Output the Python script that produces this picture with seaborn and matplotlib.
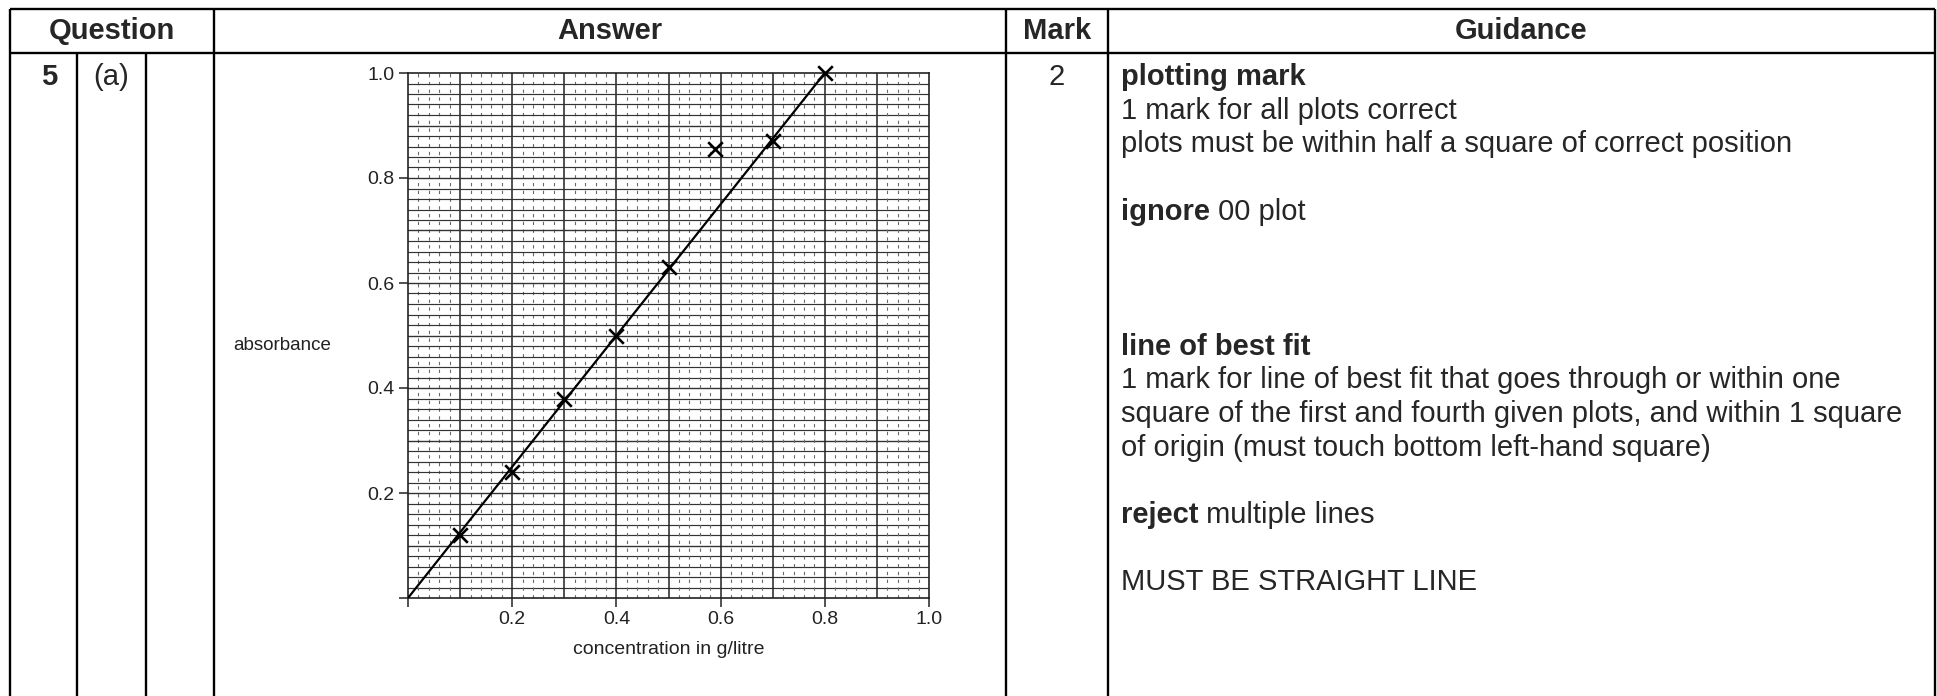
import numpy as np
import pandas as pd
import matplotlib
matplotlib.use("Agg")
import matplotlib.pyplot as plt
import seaborn as sns

# ---- data ----
concentration = [0.1, 0.2, 0.3, 0.4, 0.5, 0.59, 0.7, 0.8]
absorbance = [0.12, 0.24, 0.38, 0.50, 0.63, 0.855, 0.87, 1.0]
fit_x = [0.0, 0.8]
fit_y = [0.0, 1.0]
tick_values = [0.0, 0.2, 0.4, 0.6, 0.8, 1.0]
tick_labels = ["", "0.2", "0.4", "0.6", "0.8", "1.0"]

headers = ["Question", "Answer", "Mark", "Guidance"]
question_no = "5"
question_part = "(a)"
mark_value = "2"

sns.set_theme(style="white")
plt.rcParams["font.family"] = ["Liberation Sans", "DejaVu Sans"]

W, H = 1937, 696
fig = plt.figure(figsize=(W / 100, H / 100), dpi=100)
fig.patch.set_facecolor("white")

# background axes in pixel coordinates for the table
bg = fig.add_axes([0, 0, 1, 1])
bg.set_xlim(0, W)
bg.set_ylim(H, 0)
bg.axis("off")

lw_tab = 1.7
top, hdr = 9, 53
xl, c1, c2, c3, c4, c5, xr = 10, 77, 146, 214, 1006, 1108, 1935
bg.plot([xl, xr], [top, top], color="black", lw=lw_tab, solid_capstyle="butt")
bg.plot([xl, xr], [hdr, hdr], color="black", lw=lw_tab, solid_capstyle="butt")
for xv in [xl, c3, c4, c5, xr]:
    bg.plot([xv, xv], [top, H], color="black", lw=lw_tab, solid_capstyle="butt")
for xv in [c1, c2]:
    bg.plot([xv, xv], [hdr, H], color="black", lw=lw_tab, solid_capstyle="butt")

fs_head = 21
fs_body = 21
hy = 31
bg.text((xl + c3) / 2, hy, headers[0], ha="center", va="center", fontsize=fs_head, fontweight="bold")
bg.text((c3 + c4) / 2, hy, headers[1], ha="center", va="center", fontsize=fs_head, fontweight="bold")
bg.text((c4 + c5) / 2, hy, headers[2], ha="center", va="center", fontsize=fs_head, fontweight="bold")
bg.text((c5 + xr) / 2, hy, headers[3], ha="center", va="center", fontsize=fs_head, fontweight="bold")

ry = 74
bg.text(49, ry, question_no, ha="center", va="center_baseline", fontsize=fs_body, fontweight="bold")
bg.text((c1 + c2) / 2, ry, question_part, ha="center", va="center_baseline", fontsize=fs_body)
bg.text((c4 + c5) / 2, ry, mark_value, ha="center", va="center_baseline", fontsize=fs_body)

gx = c5 + 13
step = 33.7
def line_y(i):
    return ry + i * step

guidance = [
    (0, [("plotting mark", "bold")]),
    (1, [("1 mark for all plots correct", "normal")]),
    (2, [("plots must be within half a square of correct position", "normal")]),
    (4, [("ignore", "bold"), (" 00 plot", "normal")]),
    (8, [("line of best fit", "bold")]),
    (9, [("1 mark for line of best fit that goes through or within one", "normal")]),
    (10, [("square of the first and fourth given plots, and within 1 square", "normal")]),
    (11, [("of origin (must touch bottom left-hand square)", "normal")]),
    (13, [("reject", "bold"), (" multiple lines", "normal")]),
    (15, [("MUST BE STRAIGHT LINE", "normal")]),
]
fig.canvas.draw()
renderer = fig.canvas.get_renderer()
for idx, parts in guidance:
    x = gx
    for txt, wt in parts:
        t = bg.text(x, line_y(idx), txt, ha="left", va="center_baseline", fontsize=fs_body,
                    fontweight=wt)
        bb = t.get_window_extent(renderer=renderer)
        x += bb.width * (W / fig.bbox.width)

# ---- the chart ----
x0, x1, y0, y1 = 408, 929, 598, 73
ax = fig.add_axes([x0 / W, (H - y0) / H, (x1 - x0) / W, (y0 - y1) / H])
ax.set_xlim(0, 1.0)
ax.set_ylim(0, 1.0)
ax.set_facecolor("white")

# graph paper
for v in np.arange(0.02, 1.0, 0.02):
    heavy = abs(v * 10 - round(v * 10)) < 1e-6
    ax.axhline(v, color="#333333", lw=1.0 if heavy else 0.85, zorder=0)
    if heavy:
        ax.axvline(v, color="#222222", lw=1.1, zorder=0)
    else:
        ax.axvline(v, color="#6a6a6a", lw=0.8, ls=(0, (3, 4)), zorder=0)

df_fit = pd.DataFrame({"x": fit_x, "y": fit_y})
sns.lineplot(data=df_fit, x="x", y="y", ax=ax, color="black", lw=1.6, zorder=3)
df_pts = pd.DataFrame({"x": concentration, "y": absorbance})
sns.scatterplot(data=df_pts, x="x", y="y", ax=ax, marker="x", s=110, color="black",
                linewidth=1.9, zorder=4, clip_on=False)

ax.set_xticks(tick_values)
ax.set_xticklabels(tick_labels)
ax.set_yticks(tick_values)
ax.set_yticklabels(tick_labels)
ax.tick_params(axis="both", which="major", direction="out", length=6.5, width=1.1,
               color="#222222", labelsize=14, labelcolor="#222222", pad=3,
               left=True, bottom=True)
for sp in ax.spines.values():
    sp.set_color("#222222")
    sp.set_linewidth(1.2)
ax.set_xlabel("")
ax.set_ylabel("")

bg.text(669, 650, "concentration in g/litre", ha="center", va="center", fontsize=14, color="#222222")
bg.text(282, 345, "absorbance", ha="center", va="center", fontsize=13.5, color="#222222")

fig.savefig("out.png", dpi=100, facecolor="white")
